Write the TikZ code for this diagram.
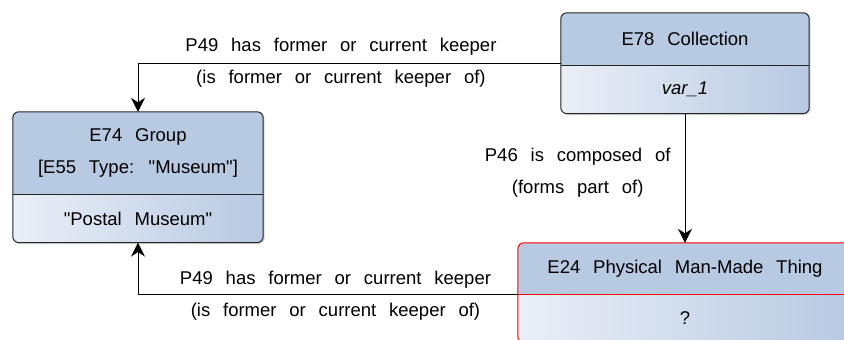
\documentclass[tikz,border=0pt]{standalone}
\usepackage{fontspec}
\setmainfont{Liberation Sans}[WordSpace=2.5]
\usetikzlibrary{arrows.meta,backgrounds,shadows}

\definecolor{headblue}{RGB}{184,201,226}
\definecolor{paleblue}{RGB}{234,239,247}

\tikzset{
  head/.style={minimum height=52pt, inner sep=0pt, align=center},
  val/.style={minimum height=48pt, inner sep=0pt, anchor=north},
  frame/.style={rounded corners=6pt, line width=1pt},
  shadowed/.style={drop shadow={shadow xshift=1.5pt, shadow yshift=-1.5pt, opacity=0.3}},
  link/.style={-{Stealth[length=14pt,width=14pt]}, line width=1pt},
  lbl/.style={align=center, inner sep=3pt},
}

\begin{document}
\begin{tikzpicture}[x=1pt, y=-1pt, font=\fontsize{18.5}{32}\selectfont]
\useasboundingbox (0,0) rectangle (844,340);

% classes
\node[head, minimum width=248pt] at (685, 39) (e78) {E78 Collection};
\node[val, minimum width=248pt] at (e78.south) (e78val) {\itshape var\_1};

\node[head, minimum width=250pt, minimum height=82pt] at (138, 153) (e74) {E74 Group\\{}[E55 Type: \textquotedbl Museum\textquotedbl]};
\node[val, minimum width=250pt] at (e74.south) (e74val) {\textquotedbl Postal Museum\textquotedbl};

\node[head, minimum width=334pt, minimum height=51pt] at (685, 268.5) (e24) {E24 Physical Man-Made Thing};
\node[val, minimum width=334pt] at (e24.south) (e24val) {?};

% fills behind the text
\begin{scope}[on background layer]
  \fill[frame, shadowed, headblue] (e78.north west) rectangle (e78val.south east);
  \fill[frame, shadowed, headblue] (e74.north west) rectangle (e74val.south east);
  \fill[frame, shadowed, headblue] (e24.north west) rectangle (e24val.south east);
  \begin{scope}
    \clip[rounded corners=6pt] (e78.north west) rectangle (e78val.south east);
    \shade[left color=paleblue, right color=headblue] (e78val.north west) rectangle (e78val.south east);
  \end{scope}
  \begin{scope}
    \clip[rounded corners=6pt] (e74.north west) rectangle (e74val.south east);
    \shade[left color=paleblue, right color=headblue] (e74val.north west) rectangle (e74val.south east);
  \end{scope}
  \begin{scope}
    \clip[rounded corners=6pt] (e24.north west) rectangle (e24val.south east);
    \shade[left color=paleblue, right color=headblue] (e24val.north west) rectangle (e24val.south east);
  \end{scope}
\end{scope}

\draw[frame, black!85] (e78.north west) rectangle (e78val.south east);
\draw[line width=1pt, black!85] (e78.south west) -- (e78.south east);
\draw[frame, black!85] (e74.north west) rectangle (e74val.south east);
\draw[line width=1pt, black!85] (e74.south west) -- (e74.south east);
\draw[frame, red] (e24.north west) rectangle (e24val.south east);
\draw[line width=1pt, red] (e24.south west) -- (e24.south east);

% properties
\draw[link] ([yshift=2pt]e78.south west) -| node[lbl, pos=0.26] (p49top) {P49 has former or current keeper\\(is former or current keeper of)} (e74.north);
\draw[link] (e78val.south) -- node[lbl, left=11pt, pos=0.46] (p46) {P46 is composed of\\(forms part of)} (e24.north);
\draw[link] (e24.south west) -| node[lbl, pos=0.24, yshift=-2pt] (p49low) {P49 has former or current keeper\\(is former or current keeper of)} (e74val.south);
\end{tikzpicture}
\end{document}
